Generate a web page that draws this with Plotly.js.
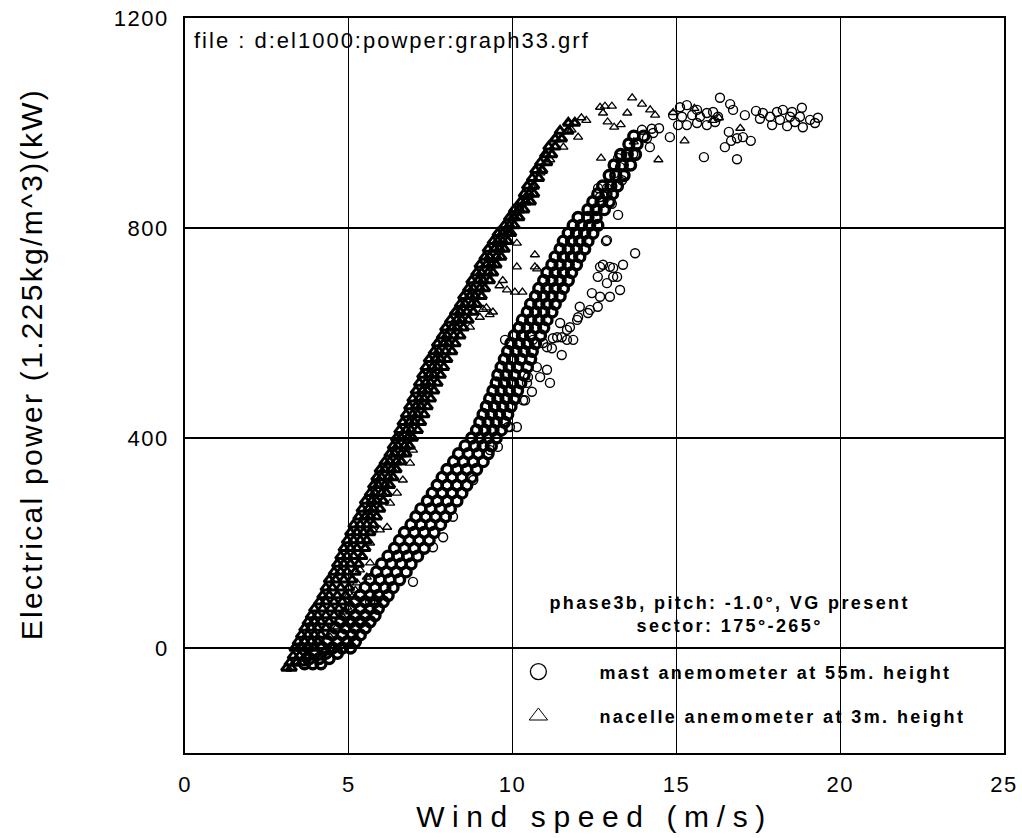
<!DOCTYPE html>
<html>
<head>
<meta charset="utf-8">
<script src="https://cdn.plot.ly/plotly-3.0.1.min.js"></script>
<style>
  body { margin: 0; background: #fff; }
  #chart { width: 1022px; height: 838px; }
  .xtick text, .ytick text { letter-spacing: 1.5px; }
  .g-xtitle text { letter-spacing: 7.6px; }
  .legendtext { letter-spacing: 2.4px; }
  g.annotation[data-index="0"] text { letter-spacing: 2px; }
  g.annotation[data-index="1"] text { letter-spacing: 2.4px; }
  g.annotation[data-index="2"] text { letter-spacing: 2.3px; }
</style>
</head>
<body>
<div id="chart"></div>
<script>
// ---- Mast anemometer (55 m) : dense band, power level (kW) -> speeds (m/s) read at that level
const mastBandPower = [-30,-20,-10,0,12,25,38,50,62,75,88,100,115,130,145,160,175,190,205,220,235,250,265,280,295,310,325,340,355,370,385,400,415,430,445,460,475,490,505,520,535,550,565,580,595,610,625,640,655,670,685,700,715,730,745,760,775,790,805,820,835,850,865,880,900,920,940,960,975];
const mastBandSpeeds = [
 [3.65,3.9,4.15],[3.8,4.1,4.4],[3.95,4.3,4.65],[4.2,4.5,4.8,5.05],[4.35,4.65,4.95,5.2],
 [4.5,4.8,5.1,5.35],[4.6,4.9,5.2,5.5],[4.75,5.05,5.35,5.65],[4.9,5.2,5.5,5.8],[5.05,5.35,5.65,5.9],
 [5.2,5.5,5.8,6.05],[5.35,5.65,5.9,6.2],[5.5,5.8,6.1,6.35],[5.65,5.95,6.25,6.55],[5.85,6.15,6.45,6.75],
 [6.0,6.3,6.6,6.9],[6.2,6.5,6.8,7.1],[6.4,6.7,7.0,7.3],[6.55,6.85,7.15,7.45],[6.7,7.0,7.3,7.6],
 [6.9,7.2,7.5,7.8],[7.05,7.35,7.65,7.95],[7.2,7.5,7.8,8.1],[7.4,7.7,8.0,8.3],[7.55,7.85,8.15,8.45],
 [7.7,8.0,8.3,8.6],[7.85,8.15,8.45,8.75],[8.0,8.3,8.6,8.9],[8.2,8.5,8.8,9.1],[8.35,8.65,8.95,9.25],
 [8.55,8.85,9.1,9.35],[8.75,9.0,9.25,9.5],[8.9,9.15,9.4,9.65],[9.0,9.25,9.5,9.75],[9.1,9.35,9.6,9.85],
 [9.2,9.45,9.7,9.95],[9.3,9.55,9.8,10.05],[9.4,9.65,9.9,10.15],[9.5,9.75,10.0,10.25],[9.55,9.8,10.05,10.35],
 [9.65,9.9,10.15,10.45],[9.75,10.0,10.25,10.55],[9.85,10.1,10.35,10.6],[9.95,10.2,10.45,10.7],[10.05,10.3,10.55,10.85],
 [10.2,10.45,10.7,10.95],[10.3,10.55,10.8,11.05],[10.45,10.7,10.95,11.2],[10.55,10.8,11.05,11.3],[10.7,10.95,11.2,11.45],
 [10.8,11.05,11.3,11.55],[10.95,11.2,11.45,11.7],[11.05,11.3,11.55,11.8],[11.2,11.45,11.7,11.95],[11.3,11.55,11.8,12.05],
 [11.45,11.7,11.95,12.2],[11.55,11.8,12.05,12.3],[11.7,11.95,12.2,12.45],[11.85,12.1,12.35,12.6],[12.0,12.3,12.55],
 [12.3,12.55,12.8],[12.45,12.7,12.95],[12.6,12.85,13.05],[12.75,13.0,13.2],[12.95,13.15,13.4],
 [13.1,13.35,13.6],[13.3,13.5,13.75],[13.55,13.8],[13.7,14.0]
];
// ---- Mast anemometer : scattered points and plateau
const mastExtraSpeed = [8.8,8.18,7.88,7.57,6.96,5.65,9.31,9.55,9.92,10.13,9.86,9.77,
 10.74,11.05,10.84,10.44,10.59,10.32,10.07,10.47,11.14,10.38,
 10.62,10.93,11.23,11.5,11.85,11.5,11.2,11.66,11.36,11.05,11.66,11.75,12.0,11.97,11.45,12.05,12.36,12.6,12.42,12.3,
 12.67,12.97,13.28,13.07,12.67,12.97,13.37,12.76,13.07,13.19,12.88,12.6,12.88,13.22,13.74,12.85,
 12.61,12.88,12.67,13.03,12.76,13.34,13.43,13.13,13.28,13.22,13.49,13.68,
 13.95,14.25,14.47,14.1,14.29,14.19,14.8,14.9,
 15.11,15.32,15.63,15.48,15.72,15.93,16.12,16.27,16.18,15.93,15.63,15.32,15.05,15.17,15.84,
 16.33,16.64,16.73,17.09,17.43,17.64,17.55,17.86,18.07,18.25,18.53,18.83,18.77,19.08,19.32,19.23,17.92,18.38,18.62,18.86,18.16,18.47,
 16.6,16.48,16.67,16.85,17.03,17.27,16.85];
const mastExtraPower = [320,250,211,192,126,88,377,383,421,421,421,587,
 535,530,516,505,488,472,472,516,505,472,
 587,581,590,592,587,558,571,587,592,573,606,611,630,625,619,650,644,650,676,638,
 669,669,682,707,726,726,730,730,724,707,695,707,777,825,752,775,
 876,876,859,846,850,891,903,905,916,933,935,941,
 987,989,990,971,981,954,973,1015,
 1030,1034,1025,1015,1012,1019,1021,1012,1002,996,1000,996,996,1012,935,
 1048,1036,1025,1015,1023,1019,1008,1012,1021,1025,1021,1029,1012,1006,1010,1000,996,994,1002,992,1006,1012,
 983,954,966,971,973,966,931];

// ---- Nacelle anemometer (3 m) : dense band
const nacBandPower = [-38,-28,-15,0,12,25,38,50,62,75,88,100,115,130,145,160,175,190,205,220,235,250,265,280,295,310,325,340,355,370,385,400,415,430,445,460,475,490,505,520,535,550,565,580,595,610,625,640,655,670,685,700,715,730,745,760,775,790,805,820,835,850,865,880,895,910,925,940,955,970,985,1000];
const nacBandSpeeds = [
 [3.1,3.25],[3.2,3.4,3.55],[3.3,3.5,3.7],[3.35,3.55,3.75,3.95],[3.45,3.65,3.85,4.05],
 [3.55,3.75,3.95,4.15],[3.65,3.85,4.05,4.3],[3.75,3.95,4.15,4.4],[3.85,4.05,4.3,4.55],[3.95,4.2,4.45,4.7],
 [4.1,4.3,4.55,4.8],[4.2,4.4,4.65,4.9],[4.3,4.5,4.75,5.0],[4.4,4.6,4.85,5.1],[4.55,4.75,4.95,5.2],
 [4.65,4.85,5.05,5.3],[4.75,4.95,5.15,5.4],[4.85,5.05,5.25,5.5],[4.95,5.15,5.35,5.55],[5.05,5.25,5.45,5.65],
 [5.15,5.35,5.55,5.75],[5.3,5.5,5.65,5.85],[5.4,5.6,5.75,5.95],[5.5,5.7,5.85,6.05],[5.65,5.8,6.0,6.15],
 [5.75,5.9,6.1,6.25],[5.85,6.0,6.2,6.35],[5.95,6.1,6.3,6.45],[6.1,6.25,6.45,6.6],[6.25,6.4,6.6,6.75],
 [6.35,6.5,6.7,6.85],[6.45,6.6,6.8,6.95],[6.55,6.75,6.9,7.1],[6.65,6.85,7.0,7.2],[6.75,6.95,7.1,7.3],
 [6.85,7.05,7.2,7.4],[6.95,7.15,7.3,7.5],[7.05,7.25,7.4,7.6],[7.15,7.35,7.5,7.7],[7.25,7.45,7.6,7.8],
 [7.35,7.55,7.7,7.9],[7.45,7.65,7.8,8.0],[7.6,7.75,7.95,8.15],[7.7,7.9,8.05,8.25],[7.85,8.0,8.2,8.4],
 [7.95,8.15,8.3,8.5],[8.1,8.3,8.45,8.65],[8.25,8.4,8.6,8.8],[8.4,8.55,8.75,8.9],[8.5,8.7,8.85,9.05],
 [8.65,8.8,9.0,9.15],[8.75,8.95,9.1,9.3],[8.9,9.05,9.25,9.4],[9.0,9.2,9.35,9.5],[9.15,9.3,9.5,9.65],
 [9.25,9.45,9.6,9.75],[9.4,9.55,9.7,9.85],[9.55,9.7,9.85,9.95],[9.75,9.9,10.05],[9.9,10.05,10.2],
 [10.05,10.2,10.35],[10.25,10.4,10.55],[10.35,10.5,10.65],[10.45,10.65],[10.6,10.8],
 [10.7,10.9],[10.85,11.05],[11.0,11.2],[11.1,11.3],[11.3,11.5],[11.45,11.7],[11.7,11.9]
];
// ---- Nacelle anemometer : scattered points and plateau
const nacExtraSpeed = [6.17,5.95,6.26,6.87,6.96,5.65,5.43,5.34,5.55,5.25,4.95,4.82,4.64,4.95,5.04,4.43,4.12,5.74,6.47,6.65,
 5.1,5.2,5.65,4.82,
 8.7,9.0,9.4,9.2,9.1,9.3,9.83,9.6,9.7,10.07,10.3,10.13,10.13,10.68,10.68,10.75,
 10.0,10.2,10.45,10.6,10.85,11.05,11.15,11.5,11.55,11.8,12.0,12.1,12.25,
 12.67,12.82,13.03,12.76,13.5,13.65,13.95,14.2,14.35,12.9,13.1,13.3,12.7,13.7,14.45,15.25,16.95,
 14.9,15.55,16.1,16.3];
const nacExtraPower = [230,225,276,352,377,200,173,149,135,124,78,59,40,97,86,21,15,225,295,320,
 97,110,162,69,
 611,630,640,648,645,635,682,690,700,678,678,726,771,749,726,722,
 821,840,859,878,905,939,930,971,954,987,973,1010,1005,
 1030,1032,1032,1019,1019,1048,1036,1025,1015,1002,992,997,933,964,930,966,990,
 1020,1028,1005,1010];

const legendNames = ['mast anemometer at 55m. height', 'nacelle anemometer at 3m. height'];
const xTicks = [0, 5, 10, 15, 20, 25];
const yTicks = [0, 400, 800, 1200];
const fileNote = 'file : d:el1000:powper:graph33.grf';
const infoText = 'phase3b, pitch: -1.0°, VG present<br>sector: 175°-265°';
const xTitle = 'Wind speed (m/s)';
const yTitle = 'Electrical power (1.225kg/m^3)(kW)';

function flatten(levels, speeds) {
  const xs = [], ys = [];
  levels.forEach((p, i) => speeds[i].forEach(s => { xs.push(s); ys.push(p); }));
  return { xs, ys };
}
const mastBand = flatten(mastBandPower, mastBandSpeeds);
const nacBand = flatten(nacBandPower, nacBandSpeeds);

const circBand = { symbol: 'circle-open', size: 10, color: '#000', line: { width: 3.4, color: '#000' } };
const triBand = { symbol: 'triangle-up-open', size: 9, color: '#000', line: { width: 3.0, color: '#000' } };
const circ = { symbol: 'circle-open', size: 9, color: '#000', line: { width: 1.4, color: '#000' } };
const tri = { symbol: 'triangle-up-open', size: 8, color: '#000', line: { width: 1.3, color: '#000' } };

const traces = [
  { type: 'scatter', mode: 'markers', x: nacBand.xs, y: nacBand.ys, marker: triBand, showlegend: false, hoverinfo: 'skip' },
  { type: 'scatter', mode: 'markers', x: nacExtraSpeed, y: nacExtraPower, marker: tri, showlegend: false, hoverinfo: 'skip' },
  { type: 'scatter', mode: 'markers', x: mastBand.xs, y: mastBand.ys, marker: circBand, showlegend: false, hoverinfo: 'skip' },
  { type: 'scatter', mode: 'markers', x: mastExtraSpeed, y: mastExtraPower, marker: circ, showlegend: false, hoverinfo: 'skip' },
  { type: 'scatter', mode: 'markers', x: [null], y: [null], name: legendNames[0], legendgroup: 'a',
    marker: { symbol: 'circle-open', size: 20, color: '#000', line: { width: 1.3, color: '#000' } } },
  { type: 'scatter', mode: 'markers', x: [null], y: [null], name: legendNames[1], legendgroup: 'b',
    marker: { symbol: 'triangle-up-open', size: 20, color: '#000', line: { width: 1.0, color: '#000' } } }
];

const font = 'Liberation Sans, Arial, Helvetica, sans-serif';
const layout = {
  width: 1022, height: 838,
  margin: { l: 185, r: 18, t: 18, b: 85 },
  paper_bgcolor: '#fff', plot_bgcolor: '#fff',
  font: { family: font, color: '#000' },
  showlegend: true,
  legend: {
    x: 0.357, xanchor: 'left', y: 0.1355, yanchor: 'top',
    bgcolor: 'rgba(0,0,0,0)', borderwidth: 0,
    font: { family: font, size: 18, weight: 'bold', color: '#000' },
    itemwidth: 112, tracegroupgap: 18, itemclick: false
  },
  xaxis: {
    range: [0, 25], tickvals: xTicks, ticktext: xTicks.map(String),
    showgrid: true, gridcolor: '#000', gridwidth: 1.4, zeroline: false,
    showline: true, linecolor: '#000', linewidth: 1.8, mirror: true,
    ticks: '', ticklabelstandoff: 11,
    tickfont: { family: font, size: 22, color: '#000' },
    title: { text: xTitle, font: { family: font, size: 30, color: '#000' }, standoff: 10 }
  },
  yaxis: {
    range: [-200, 1200], tickvals: yTicks, ticktext: yTicks.map(String),
    showgrid: true, gridcolor: '#000', gridwidth: 1.4, zeroline: false,
    showline: true, linecolor: '#000', linewidth: 1.8, mirror: true,
    ticks: '', ticklabelstandoff: 10,
    tickfont: { family: font, size: 22, color: '#000' }
  },
  annotations: [
    { text: fileNote, xref: 'paper', yref: 'paper', x: 0.050, y: 0.969, xanchor: 'left', yanchor: 'middle',
      showarrow: false, font: { family: font, size: 22, color: '#000' } },
    { text: infoText, xref: 'paper', yref: 'paper', x: 0.6654, y: 0.188, xanchor: 'center', yanchor: 'middle',
      showarrow: false, align: 'center', font: { family: font, size: 18, weight: 'bold', color: '#000' } },
    { text: yTitle, xref: 'paper', yref: 'paper', x: -0.188, y: 0.529, xanchor: 'center', yanchor: 'middle',
      textangle: -90, showarrow: false, font: { family: font, size: 30, color: '#000' } }
  ]
};

Plotly.newPlot('chart', traces, layout, { staticPlot: true, displayModeBar: false });
</script>
</body>
</html>
